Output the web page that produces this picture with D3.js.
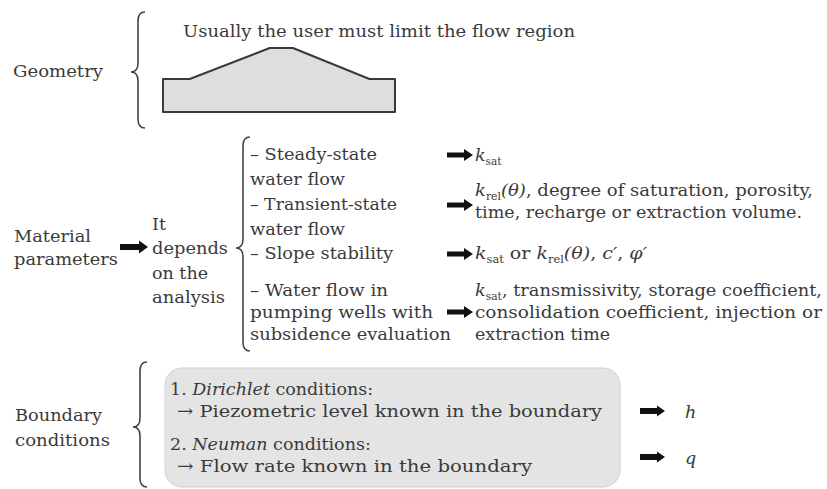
<!DOCTYPE html>
<html>
<head>
<meta charset="utf-8">
<script src="https://cdn.jsdelivr.net/npm/d3@7"></script>
<style>
  body { margin: 0; background: #fff; }
  text { font-family: 'DejaVu Serif', serif; font-size: 17.5px; fill: #3a3a3a; }
</style>
</head>
<body>
<div id="chart"></div>
<script>
// text content of the diagram (*..* = italic, ~..~ = subscript)
var sectionLabels = [["Geometry"], ["Material", "parameters"], ["Boundary", "conditions"]];
var geometryNote = "Usually the user must limit the flow region";
// embankment profile, relative (x, height) points of the top line
var profileX = [0, 0.115, 0.46, 0.56, 0.89, 1];
var profileH = [0, 0, 1, 1, 0, 0];
var dependsText = ["It", "depends", "on the", "analysis"];
var analyses = [
    ["– Steady-state", "water flow"],
    ["– Transient-state", "water flow"],
    ["– Slope stability"],
    ["– Water flow in", "pumping wells with", "subsidence evaluation"]
];
var needed = [
    ["*k*~sat~"],
    ["*k*~rel~*(θ)*, degree of saturation, porosity,", "time, recharge or extraction volume."],
    ["*k*~sat~  or *k*~rel~*(θ)*, *c′*,  *φ′*"],
    ["*k*~sat~, transmissivity, storage coefficient,", "consolidation coefficient, injection or", "extraction time"]
];
var conditions = [
    ["1. *Dirichlet* conditions:", "→ Piezometric level known in the boundary"],
    ["2. *Neuman* conditions:", "→ Flow rate known in the boundary"]
];
var unknowns = ["*h*", "*q*"];

var width = 827, height = 489;

var svg = d3.select("#chart").append("svg")
    .attr("width", width)
    .attr("height", height);

function parse(str) {
    return str.split(/(\*[^*]+\*|~[^~]+~)/).filter(function(s) { return s.length; }).map(function(s) {
        if (s[0] == "*") return {t: s.slice(1, -1), it: true};
        if (s[0] == "~") return {t: s.slice(1, -1), sub: true};
        return {t: s};
    });
}

function rich(x, y, str, len) {
    var t = svg.append("text").attr("x", x).attr("y", y);
    var shift = 0;
    parse(str).forEach(function(s) {
        var target = s.sub ? 4 : 0;
        var ts = t.append("tspan").text(s.t);
        if (target - shift != 0) ts.attr("dy", target - shift);
        shift = target;
        if (s.it) ts.style("font-style", "italic");
        if (s.sub) ts.style("font-size", "10.5px");
    });
    if (len) {
        // only nudge to the width
        var w = t.node().getComputedTextLength();
        if (Math.abs(w - len) / len < 0.12)
            t.attr("textLength", len).attr("lengthAdjust", "spacingAndGlyphs");
    }
    return t;
}

function brace(x, y0, y1, tip) {
    var e = 7, r = 9;
    var p = d3.path();
    p.moveTo(x + e, y0);
    p.quadraticCurveTo(x, y0, x, y0 + r);
    p.lineTo(x, tip - r);
    p.quadraticCurveTo(x, tip, x - e, tip);
    p.quadraticCurveTo(x, tip, x, tip + r);
    p.lineTo(x, y1 - r);
    p.quadraticCurveTo(x, y1, x + e, y1);
    svg.append("path").attr("d", p.toString())
        .style("fill", "none").style("stroke", "#444").style("stroke-width", 1.6);
}

function arrow(x0, x1, y, sh, hh, hl) {
    var p = d3.path();
    p.moveTo(x0, y - sh / 2);
    p.lineTo(x1 - hl, y - sh / 2);
    p.lineTo(x1 - hl, y - hh / 2);
    p.lineTo(x1, y);
    p.lineTo(x1 - hl, y + hh / 2);
    p.lineTo(x1 - hl, y + sh / 2);
    p.lineTo(x0, y + sh / 2);
    p.closePath();
    svg.append("path").attr("d", p.toString()).style("fill", "#111");
}

// ---- Geometry
rich(13, 77, sectionLabels[0][0], 90);
brace(138, 12, 128, 72);
rich(183, 37, geometryNote, 392);

var px = d3.scaleLinear().domain([0, 1]).range([163, 395]);
var py = d3.scaleLinear().domain([0, 1]).range([79, 48]);
var base = 112;
var pts = profileX.map(function(v, i) { return [px(v), py(profileH[i])]; });
pts.push([px(1), base], [px(0), base]);
svg.append("path")
    .attr("d", d3.line()(pts) + "Z")
    .style("fill", "#dedede").style("stroke", "#3a3a3a").style("stroke-width", 2)
    .style("stroke-linejoin", "round");

// ---- Material parameters
var matW = [77, 104];
sectionLabels[1].forEach(function(s, i) { rich(14, 242 + i * 23, s, matW[i]); });
arrow(120, 148, 247, 6, 13, 9);

var depW = [null, 76, 56, 73];
dependsText.forEach(function(s, i) { rich(152, 230 + i * 24.3, s, depW[i]); });
brace(243, 137, 351, 248);

var rowY = [160, 210, 259, 296];
var rightY = [161, 196, 259, 296];
var lineGap = [25, 25, 22, 22];
var anaW = [[127, 95], [147, 95], [143], [138, 183, 201]];
var needW = [[null], [338, 327], [172], [347, 347, 135]];
var arrowY = [155, 205, 254, 312];

analyses.forEach(function(lines, r) {
    lines.forEach(function(s, i) { rich(250, rowY[r] + i * lineGap[r], s, anaW[r][i]); });
});
needed.forEach(function(lines, r) {
    lines.forEach(function(s, i) { rich(475, rightY[r] + i * 22, s, needW[r][i]); });
    arrow(447, 473, arrowY[r], 5, 12, 9);
});

// ---- Boundary conditions
var bndW = [87, 95];
sectionLabels[2].forEach(function(s, i) { rich(15, 421 + i * 25, s, bndW[i]); });
brace(140, 362, 487, 427);

svg.append("rect")
    .attr("x", 165).attr("y", 368).attr("width", 455).attr("height", 119)
    .attr("rx", 17)
    .style("fill", "#e4e4e4").style("stroke", "#cfcfcf").style("stroke-width", 1);

var condY = [395, 450];
var condX = [[170, 177], [170, 177]];
var condW = [[165, 425], [160, 355]];
conditions.forEach(function(lines, r) {
    lines.forEach(function(s, i) { rich(condX[r][i], condY[r] + i * 22, s, condW[r][i]); });
});

var unkY = [418, 464];
unknowns.forEach(function(s, i) {
    arrow(640, 665, unkY[i] - 7, 6, 11, 8);
    rich(685, unkY[i], s);
});
</script>
</body>
</html>
